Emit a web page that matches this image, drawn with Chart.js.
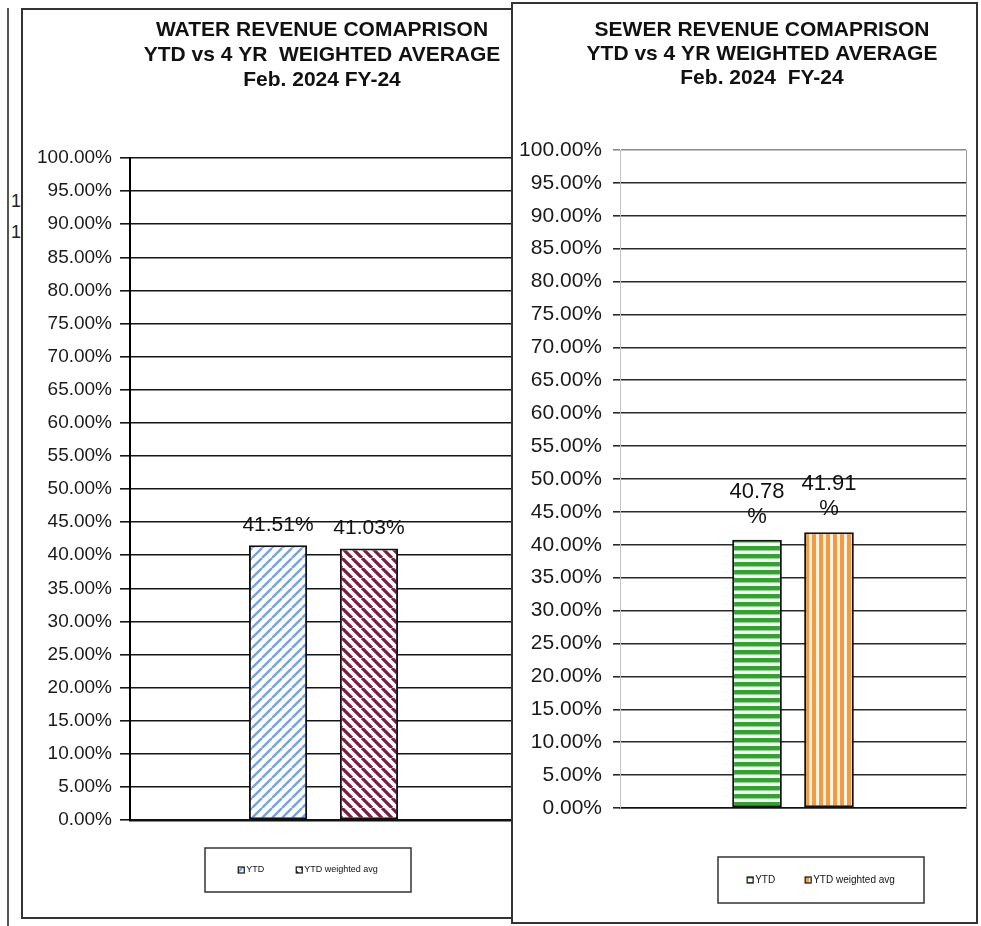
<!DOCTYPE html>
<html>
<head>
<meta charset="utf-8">
<script src="https://cdn.jsdelivr.net/npm/chart.js@4.4.1/dist/chart.umd.min.js"></script>
<style>
  html, body { margin: 0; padding: 0; background: #fff; overflow: hidden; }
  body { width: 981px; height: 926px; position: relative; font-family: "Liberation Sans", Arial, sans-serif; }
  .abs { position: absolute; }
  #edge { left: 7px; top: 8px; width: 2px; height: 918px; background: #555; }
  #leftBox { left: 21px; top: 8px; width: 493px; height: 911px; border: 2px solid #333; box-sizing: border-box; }
  #leftCanvas { left: 22px; top: 8px; z-index: 2; }
  #rightBox { left: 511px; top: 2px; width: 467px; height: 922px; border: 2px solid #333; box-sizing: border-box; background: #fff; z-index: 3; }
  #rightCanvas { left: 511px; top: 2px; z-index: 4; }
  .stray { font-size: 18px; line-height: 20px; color: #222; z-index: 1; }
</style>
</head>
<body>
<div id="edge" class="abs"></div>
<div class="abs stray" style="left:11px;top:191px;">1</div>
<div class="abs stray" style="left:11px;top:222px;">1</div>
<div id="leftBox" class="abs"></div>
<canvas id="leftCanvas" class="abs" width="495" height="910"></canvas>
<div id="rightBox" class="abs"></div>
<canvas id="rightCanvas" class="abs" width="466" height="921"></canvas>

<script>
// data
const categories = ['Feb. 2024 FY-24'];
const seriesNames = ['YTD', 'YTD weighted avg'];
const waterYtd = [41.51];
const waterWeighted = [41.03];
const sewerYtd = [40.78];
const sewerWeighted = [41.91];
const yMax = 100;
const yStep = 5;

const FONT = '"Liberation Sans", Arial, sans-serif';

// striped fills like the Excel patterns
function stripes(ctx, kind, ink, paper, size, width) {
  const c = document.createElement('canvas');
  c.width = size;
  c.height = size;
  const g = c.getContext('2d');
  g.fillStyle = paper;
  g.fillRect(0, 0, size, size);
  g.fillStyle = ink;
  g.strokeStyle = ink;
  g.lineWidth = width;
  if (kind === 'h') {
    g.fillRect(0, 0, size, width);
  } else if (kind === 'v') {
    g.fillRect(0, 0, width, size);
  } else {
    g.beginPath();
    for (let k = -1; k <= 1; k++) {
      if (kind === '/') {
        g.moveTo(k * size, size);
        g.lineTo(k * size + size, 0);
      } else {
        g.moveTo(k * size, 0);
        g.lineTo(k * size + size, size);
      }
    }
    g.stroke();
  }
  return ctx.createPattern(c, 'repeat');
}

// move the title block so it is centred where the scan has it
const titlePlace = {
  id: 'titlePlace',
  afterLayout(chart, args, o) {
    const b = chart.titleBlock;
    if (!b || o.cx == null) return;
    b.left = o.cx - o.half;
    b.right = o.cx + o.half;
    b.width = o.half * 2;
  }
};

// value labels above the bars
const barLabels = {
  id: 'barLabels',
  afterDatasetsDraw(chart, args, o) {
    const ctx = chart.ctx;
    ctx.save();
    ctx.font = o.size + 'px ' + FONT;
    ctx.fillStyle = '#111';
    ctx.textAlign = 'center';
    ctx.textBaseline = 'middle';
    chart.data.datasets.forEach((ds, i) => {
      chart.getDatasetMeta(i).data.forEach((bar, j) => {
        const v = ds.data[j].toFixed(2);
        const lines = o.split ? [v, '%'] : [v + '%'];
        lines.forEach((t, k) => {
          ctx.fillText(t, bar.x, bar.y - o.offset - (lines.length - 1 - k) * o.lineHeight);
        });
      });
    });
    ctx.restore();
  }
};

// small framed legend under the plot
const boxedLegend = {
  id: 'boxedLegend',
  afterDraw(chart, args, o) {
    const ctx = chart.ctx;
    ctx.save();
    ctx.strokeStyle = '#333';
    ctx.lineWidth = 1.5;
    ctx.strokeRect(o.x, o.y, o.w, o.h);
    ctx.font = o.size + 'px ' + FONT;
    ctx.textBaseline = 'middle';
    const sw = o.swatch;
    const widths = chart.data.datasets.map(ds => sw + 2 + ctx.measureText(ds.label).width);
    const total = widths.reduce((a, b) => a + b, 0) + o.gap * (widths.length - 1);
    let x = o.x + (o.w - total) / 2;
    const cy = o.y + o.h / 2;
    chart.data.datasets.forEach((ds, i) => {
      ctx.fillStyle = ds.backgroundColor;
      ctx.fillRect(x, cy - sw / 2, sw, sw);
      ctx.strokeStyle = '#111';
      ctx.lineWidth = 1.2;
      ctx.strokeRect(x, cy - sw / 2, sw, sw);
      ctx.fillStyle = '#111';
      ctx.fillText(ds.label, x + sw + 2, cy);
      x += widths[i] + o.gap;
    });
    ctx.restore();
  }
};

// thin right edge of the plot area
const plotEdge = {
  id: 'plotEdge',
  beforeDatasetsDraw(chart, args, o) {
    if (!o.color) return;
    const {right, top, bottom} = chart.chartArea;
    const ctx = chart.ctx;
    ctx.save();
    ctx.strokeStyle = o.color;
    ctx.lineWidth = 1;
    ctx.beginPath();
    ctx.moveTo(right + 0.5, top);
    ctx.lineTo(right + 0.5, bottom);
    ctx.stroke();
    ctx.restore();
  }
};

function drawChart(id, d) {
  const ctx = document.getElementById(id).getContext('2d');
  const fills = d.fills(ctx);
  return new Chart(ctx, {
    type: 'bar',
    data: {
      labels: categories,
      datasets: [
        {
          label: seriesNames[0],
          data: d.ytd,
          backgroundColor: fills[0],
          borderColor: '#111',
          borderWidth: 2,
          borderSkipped: false,
          categoryPercentage: d.catPct,
          barPercentage: d.barPct
        },
        {
          label: seriesNames[1],
          data: d.weighted,
          backgroundColor: fills[1],
          borderColor: '#111',
          borderWidth: 2,
          borderSkipped: false,
          categoryPercentage: d.catPct,
          barPercentage: d.barPct
        }
      ]
    },
    options: {
      responsive: false,
      animation: false,
      layout: { padding: d.padding },
      scales: {
        x: {
          grid: { display: false, drawTicks: false },
          ticks: { display: false },
          border: { display: true, color: '#111', width: d.xAxisWidth }
        },
        y: {
          min: 0,
          max: yMax,
          ticks: {
            stepSize: yStep,
            autoSkip: false,
            padding: d.tickPad,
            color: '#1a1a1a',
            font: { size: d.tickSize, family: FONT },
            callback: v => v.toFixed(2) + '%'
          },
          grid: {
            color: d.gridColor,
            lineWidth: 1.6,
            tickLength: d.tickLen
          },
          border: { color: d.axisColor, width: d.axisWidth },
          afterFit: s => { s.width = d.axisBoxWidth; }
        }
      },
      plugins: {
        legend: { display: false },
        tooltip: { enabled: false },
        title: {
          display: true,
          fullSize: false,
          text: d.title,
          color: '#111',
          font: { size: d.titleSize, weight: 'bold', family: FONT, lineHeight: d.titleLine },
          padding: d.titlePad
        },
        titlePlace: d.titleAt,
        barLabels: d.labels,
        boxedLegend: d.legend,
        plotEdge: { color: d.edgeColor }
      }
    },
    plugins: [titlePlace, barLabels, boxedLegend, plotEdge]
  });
}

// Water chart
drawChart('leftCanvas', {
  ytd: waterYtd,
  weighted: waterWeighted,
  fills: ctx => [
    stripes(ctx, '/', '#76a3e6', '#ffffff', 10, 2.4),
    stripes(ctx, '\\', '#7a1c3e', '#ffffff', 10, 3.2)
  ],
  catPct: 0.47,
  barPct: 0.64,
  padding: { left: 4, right: 0, top: 0, bottom: 98 },
  axisBoxWidth: 104,
  tickPad: 8,
  tickLen: 10,
  tickSize: 19,
  gridColor: '#151515',
  axisColor: '#000',
  axisWidth: 2,
  xAxisWidth: 2.5,
  title: ['WATER REVENUE COMAPRISON', 'YTD vs 4 YR  WEIGHTED AVERAGE', 'Feb. 2024 FY-24'],
  titleSize: 21,
  titleLine: 25 / 21,
  titleAt: { cx: 300, half: 240 },
  titlePad: { top: 10, bottom: 65 },
  labels: { size: 21, offset: 20, lineHeight: 25, split: false },
  legend: { x: 183, y: 840, w: 206, h: 44, size: 9, swatch: 6, gap: 32 },
  edgeColor: null
});

// Sewer chart
drawChart('rightCanvas', {
  ytd: sewerYtd,
  weighted: sewerWeighted,
  fills: ctx => [
    stripes(ctx, 'h', '#2ea52e', '#ffffff', 8, 4.5),
    stripes(ctx, 'v', '#f09c46', '#fff2de', 7, 4)
  ],
  catPct: 0.416,
  barPct: 0.69,
  padding: { left: 2, right: 11, top: 0, bottom: 115 },
  axisBoxWidth: 107,
  tickPad: 11,
  tickLen: 7,
  tickSize: 21,
  gridColor: c => (c.tick && c.tick.value === yMax ? '#8a8a8a' : '#2a2a2a'),
  axisColor: '#c4c4c4',
  axisWidth: 1,
  xAxisWidth: 1.6,
  title: ['SEWER REVENUE COMAPRISON', 'YTD vs 4 YR WEIGHTED AVERAGE', 'Feb. 2024  FY-24'],
  titleSize: 21,
  titleLine: 24 / 21,
  titleAt: { cx: 251, half: 225 },
  titlePad: { top: 16.5, bottom: 59.5 },
  labels: { size: 22, offset: 23, lineHeight: 25, split: true },
  legend: { x: 207, y: 855, w: 206, h: 46, size: 10, swatch: 6, gap: 30 },
  edgeColor: '#9a9a9a'
});
</script>
</body>
</html>
